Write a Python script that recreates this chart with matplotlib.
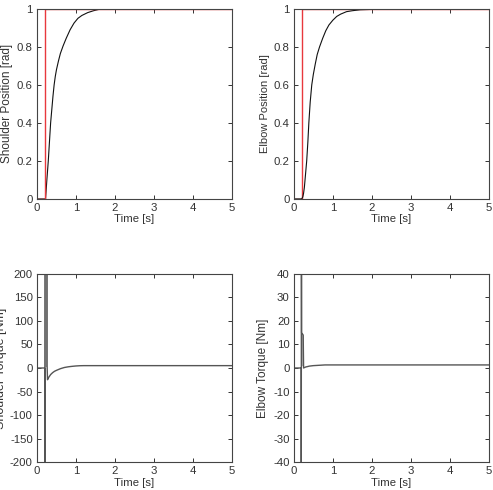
import numpy as np
import matplotlib.pyplot as plt
from matplotlib.ticker import FuncFormatter

NARROW = ['Liberation Sans Narrow', 'Liberation Sans', 'DejaVu Sans']
plt.rcParams['font.family'] = ['Liberation Sans', 'DejaVu Sans']

# reference step (red)
ref_t = [0, 0.2, 0.2, 5]
ref_y = [0, 0, 1, 1]

# shoulder position response
sh_pos_t = [0, 0.2, 0.22, 0.25, 0.29, 0.32, 0.35, 0.38, 0.41, 0.44, 0.47, 0.5, 0.55, 0.6, 0.67,
            0.75, 0.85, 0.95, 1.05, 1.15, 1.3, 1.45, 1.65]
sh_pos_y = [0, 0, 0, 0.09, 0.2, 0.3, 0.4, 0.47, 0.54, 0.6, 0.645, 0.68, 0.725, 0.765, 0.805,
            0.845, 0.89, 0.925, 0.95, 0.965, 0.98, 0.99, 1.0]

# elbow position response
el_pos_t = [0, 0.2, 0.23, 0.25, 0.27, 0.3, 0.33, 0.36, 0.385, 0.42, 0.46, 0.5, 0.55, 0.6, 0.66,
            0.74, 0.82, 0.9, 1.0, 1.1, 1.2, 1.35, 1.5, 1.7, 2.0, 3.0, 5.0]
el_pos_y = [0, 0, 0.01, 0.03, 0.06, 0.13, 0.2, 0.3, 0.4, 0.51, 0.6, 0.655, 0.71, 0.76, 0.8,
            0.845, 0.885, 0.915, 0.94, 0.96, 0.972, 0.985, 0.99, 0.995, 0.997, 0.998, 0.999]

# shoulder torque
sh_tq_t = [0, 0.2, 0.2, 0.205, 0.26, 0.26, 0.27, 0.3, 0.35, 0.4, 0.45, 0.5, 0.6, 0.7, 0.8,
           0.9, 1.0, 1.1, 1.2, 5.0]
sh_tq_y = [0, 0, -400, 400, 400, 5, -25, -20, -14, -10, -7, -5, -1.5, 1, 2.5,
           3.5, 4.3, 4.8, 5, 5]
sh_band_t = [0.205, 0.26]
sh_band_lo = [3, 3]
sh_band_hi = [400, 400]

# elbow torque
el_tq_t = [0, 0.19, 0.19, 0.195, 0.2, 0.22, 0.24, 0.25, 0.3, 0.4, 0.5, 0.6, 0.7, 0.8, 5.0]
el_tq_y = [0, 0, -80, 80, 15, 14.5, 14, 0, 0.4, 0.8, 1.0, 1.1, 1.2, 1.3, 1.3]
el_band_t = [0.2, 0.24]
el_band_lo = [1, 1]
el_band_hi = [14.5, 14]

TEXT = '#333333'
LINE = '#555555'


def style(ax, ylabel, yticks, ysize, ylabelpad=3):
    ax.set_xlim(0, 5)
    ax.set_xticks(range(6))
    ax.set_ylim(yticks[0], yticks[-1])
    ax.set_yticks(yticks)
    ax.yaxis.set_major_formatter(FuncFormatter(lambda v, p: f'{v:g}'))
    ax.tick_params(direction='in', top=True, right=True, length=3, width=0.7,
                   colors=TEXT, pad=3)
    for lab in ax.get_xticklabels() + ax.get_yticklabels():
        lab.set_family(NARROW)
        lab.set_fontsize(8.2)
    for s in ax.spines.values():
        s.set_color('#444444')
        s.set_linewidth(0.8)
    ax.set_xlabel('Time [s]', fontsize=8.2, color=TEXT, labelpad=1, family=NARROW)
    ax.set_ylabel(ylabel, fontsize=ysize, color=TEXT, labelpad=ylabelpad)


fig = plt.figure(figsize=(4.93, 4.90), dpi=100)
ax1 = fig.add_axes([0.075, 0.594, 0.3955, 0.388])
ax2 = fig.add_axes([0.596, 0.594, 0.3955, 0.388])
ax3 = fig.add_axes([0.075, 0.057, 0.3955, 0.384])
ax4 = fig.add_axes([0.596, 0.057, 0.3955, 0.384])

pos_ticks = [0, 0.2, 0.4, 0.6, 0.8, 1.0]

ax1.plot(sh_pos_t, sh_pos_y, color='#111111', lw=0.8)
ax1.plot(ref_t, ref_y, color='#e8383d', lw=1.0)
style(ax1, 'Shoulder Position [rad]', pos_ticks, 8.5)

ax2.plot(ref_t, ref_y, color='#e8383d', lw=1.0)
ax2.plot(el_pos_t, el_pos_y, color='#111111', lw=0.8)
style(ax2, 'Elbow Position [rad]', pos_ticks, 8)

ax3.fill_between(sh_band_t, sh_band_lo, sh_band_hi, color='#999999', lw=0)
ax3.plot(sh_tq_t, sh_tq_y, color=LINE, lw=1.0)
style(ax3, 'Shoulder Torque [Nm]', list(range(-200, 201, 50)), 9, ylabelpad=2)

ax4.fill_between(el_band_t, el_band_lo, el_band_hi, color='#aaaaaa', lw=0)
ax4.plot(el_tq_t, el_tq_y, color=LINE, lw=1.0)
style(ax4, 'Elbow Torque [Nm]', list(range(-40, 41, 10)), 8.5)

fig.savefig('out.png', dpi=100)
